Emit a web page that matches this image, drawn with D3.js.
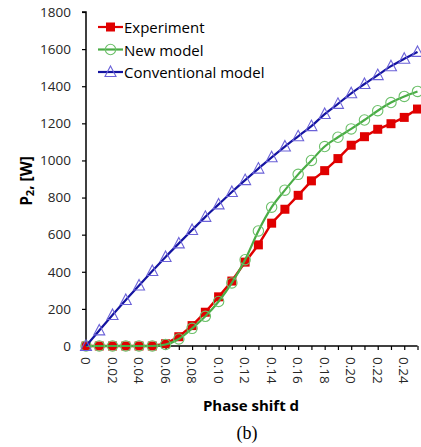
<!DOCTYPE html>
<html>
<head>
<meta charset="utf-8">
<script src="https://cdn.jsdelivr.net/npm/d3@7"></script>
<style>
  html, body { margin: 0; padding: 0; background: #fff; }
  svg { display: block; }
</style>
</head>
<body>
<svg id="chart" width="421" height="447"></svg>
<script>
// Phase shift d values (0 .. 0.25 in steps of 0.01)
const phaseShift = [0, 0.01, 0.02, 0.03, 0.04, 0.05, 0.06, 0.07, 0.08, 0.09, 0.10, 0.11, 0.12,
  0.13, 0.14, 0.15, 0.16, 0.17, 0.18, 0.19, 0.20, 0.21, 0.22, 0.23, 0.24, 0.25];

// Output power P2 [W]
const experiment = [0, 0, 0, 0, 0, 0, 12, 50, 110, 182, 265, 350, 452,
  545, 662, 737, 812, 890, 945, 1010, 1082, 1128, 1168, 1198, 1232, 1277];
const newModel = [0, 0, 0, 0, 0, 0, 8, 38, 95, 160, 240, 340, 465,
  620, 748, 840, 925, 1000, 1075, 1125, 1170, 1218, 1268, 1312, 1345, 1372];
const conventional = [0, 84, 167, 248, 326, 404, 480, 553, 625, 696, 763, 830, 894,
  956, 1017, 1075, 1130, 1185, 1250, 1305, 1362, 1412, 1460, 1508, 1548, 1585];

const yTicks = [0, 200, 400, 600, 800, 1000, 1200, 1400, 1600, 1800];
const xLabelTicks = [0, 0.02, 0.04, 0.06, 0.08, 0.10, 0.12, 0.14, 0.16, 0.18, 0.20, 0.22, 0.24];
const seriesNames = ["Experiment", "New model", "Conventional model"];

const FONT = "'Open Sans', Carlito, Lato, sans-serif";
const svg = d3.select("#chart");

const x = d3.scaleLinear().domain([0, 0.25]).range([86, 417.5]);
const y = d3.scaleLinear().domain([0, 1800]).range([346, 12]);

// ---- axes ----
const yAxis = d3.axisLeft(y).tickValues(yTicks).tickSize(4).tickPadding(11)
  .tickFormat(d3.format("d"));
const gy = svg.append("g").attr("transform", `translate(${x(0)},0)`).call(yAxis);
gy.select(".domain").attr("stroke", "#000").attr("stroke-width", 1.5)
  .attr("d", `M-4,${y(1800)}H0V${y(0)}`);
gy.selectAll(".tick line").attr("stroke", "#000").attr("stroke-width", 1.2);
gy.selectAll(".tick text").attr("font-family", FONT).attr("font-size", 13.5)
  .attr("fill", "#262626");

const minorTicks = d3.range(0, 26).map(i => i / 100);
const xAxis = d3.axisBottom(x).tickValues(minorTicks).tickSize(4)
  .tickFormat(() => "");
const gx = svg.append("g").attr("transform", `translate(0,${y(0)})`).call(xAxis);
gx.select(".domain").attr("stroke", "#000").attr("stroke-width", 1.5)
  .attr("d", `M${x(0)},0H${x(0.25)}`);
gx.selectAll(".tick line").attr("stroke", "#000").attr("stroke-width", 1.2);

// rotated tick labels every 0.02
const labelFmt = d => d === 0 ? "0" : d3.format(".2f")(d);
svg.append("g").selectAll("text").data(xLabelTicks).join("text")
  .attr("transform", d => `translate(${x(d)},${y(0) + 11}) rotate(90)`)
  .attr("text-anchor", "start")
  .attr("dominant-baseline", "central")
  .attr("font-family", FONT).attr("font-size", 13.5).attr("fill", "#262626")
  .text(labelFmt);

// axis titles
const yTitle = svg.append("text")
  .attr("transform", `translate(26,181) rotate(-90)`)
  .attr("text-anchor", "middle")
  .attr("dominant-baseline", "central")
  .attr("font-family", FONT).attr("font-size", 15.5).attr("font-weight", "bold")
  .attr("fill", "#000");
yTitle.append("tspan").text("P");
yTitle.append("tspan").attr("font-size", 11).attr("dy", 3).text("2");
yTitle.append("tspan").attr("dy", -3).text(", [W]");

svg.append("text").attr("x", 251).attr("y", 411)
  .attr("text-anchor", "middle")
  .attr("font-family", FONT).attr("font-size", 15).attr("font-weight", "bold")
  .attr("fill", "#000").text("Phase shift d");

svg.append("text").attr("x", 247).attr("y", 439)
  .attr("text-anchor", "middle")
  .attr("font-family", "'Liberation Serif', 'Times New Roman', serif")
  .attr("font-size", 18).attr("fill", "#000").text("(b)");

// ---- series ----
const pts = vals => phaseShift.map((d, i) => [d, vals[i]]);
const C = {
  red: "#e00000",
  green: "#4aac45", greenMarker: "#6cc06a",
  blue: "#1414a0", blueMarker: "#6b62d8"
};

const lineStraight = d3.line().x(d => x(d[0])).y(d => y(d[1]));
const lineSmooth = d3.line().x(d => x(d[0])).y(d => y(d[1])).curve(d3.curveMonotoneX);

const triPath = s => `M0,${-s * 0.6}L${s * 0.55},${s * 0.45}L${-s * 0.55},${s * 0.45}Z`;

// Experiment
svg.append("path").datum(pts(experiment)).attr("d", lineStraight)
  .attr("fill", "none").attr("stroke", C.red).attr("stroke-width", 2.5);
svg.append("g").selectAll("rect").data(pts(experiment)).join("rect")
  .attr("x", d => x(d[0]) - 4.5).attr("y", d => y(d[1]) - 4.5)
  .attr("width", 9).attr("height", 9).attr("fill", C.red);

// New model
svg.append("path").datum(pts(newModel)).attr("d", lineSmooth)
  .attr("fill", "none").attr("stroke", C.green).attr("stroke-width", 2.2);
svg.append("g").selectAll("circle").data(pts(newModel)).join("circle")
  .attr("cx", d => x(d[0])).attr("cy", d => y(d[1])).attr("r", 5.2)
  .attr("fill", "none").attr("stroke", C.greenMarker).attr("stroke-width", 1.1);

// Conventional model
svg.append("path").datum(pts(conventional)).attr("d", lineSmooth)
  .attr("fill", "none").attr("stroke", C.blue).attr("stroke-width", 2.2);
svg.append("g").selectAll("path").data(pts(conventional)).join("path")
  .attr("transform", d => `translate(${x(d[0])},${y(d[1])})`)
  .attr("d", triPath(10))
  .attr("fill", "none").attr("stroke", C.blueMarker).attr("stroke-width", 1.1);

// ---- legend ----
const legend = svg.append("g");
const legendRows = [
  { name: seriesNames[0], color: C.red, y: 27 },
  { name: seriesNames[1], color: C.green, y: 49.5 },
  { name: seriesNames[2], color: C.blue, y: 72 }
];
legendRows.forEach((r, i) => {
  legend.append("line").attr("x1", 98).attr("x2", 123).attr("y1", r.y).attr("y2", r.y)
    .attr("stroke", r.color).attr("stroke-width", 2.2);
  if (i === 0) {
    legend.append("rect").attr("x", 106).attr("y", r.y - 4.5).attr("width", 9).attr("height", 9)
      .attr("fill", C.red);
  } else if (i === 1) {
    legend.append("circle").attr("cx", 110.5).attr("cy", r.y).attr("r", 5.2)
      .attr("fill", "none").attr("stroke", C.greenMarker).attr("stroke-width", 1.1);
  } else {
    legend.append("path").attr("transform", `translate(110.5,${r.y})`).attr("d", triPath(10))
      .attr("fill", "none").attr("stroke", C.blueMarker).attr("stroke-width", 1.1);
  }
  legend.append("text").attr("x", 124).attr("y", r.y).attr("dominant-baseline", "central")
    .attr("font-family", FONT).attr("font-size", 15).attr("fill", "#000").text(r.name);
});
</script>
</body>
</html>
